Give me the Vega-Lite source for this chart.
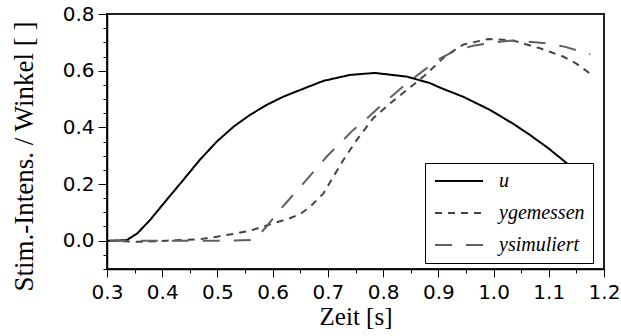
{
  "$schema": "https://vega.github.io/schema/vega-lite/v6.json",
  "width": 497,
  "height": 255,
  "autosize": {"type": "none"},
  "padding": {"left": 107, "top": 14, "right": 17, "bottom": 67},
  "background": "white",
  "data": {
    "values": [
      {"t": 0.300, "v": 0.000, "s": "u"},
      {"t": 0.311, "v": 0.000, "s": "u"},
      {"t": 0.336, "v": 0.002, "s": "u"},
      {"t": 0.355, "v": 0.026, "s": "u"},
      {"t": 0.378, "v": 0.073, "s": "u"},
      {"t": 0.408, "v": 0.144, "s": "u"},
      {"t": 0.438, "v": 0.214, "s": "u"},
      {"t": 0.468, "v": 0.285, "s": "u"},
      {"t": 0.499, "v": 0.350, "s": "u"},
      {"t": 0.529, "v": 0.402, "s": "u"},
      {"t": 0.559, "v": 0.444, "s": "u"},
      {"t": 0.589, "v": 0.479, "s": "u"},
      {"t": 0.619, "v": 0.508, "s": "u"},
      {"t": 0.650, "v": 0.532, "s": "u"},
      {"t": 0.692, "v": 0.564, "s": "u"},
      {"t": 0.740, "v": 0.585, "s": "u"},
      {"t": 0.785, "v": 0.592, "s": "u"},
      {"t": 0.843, "v": 0.579, "s": "u"},
      {"t": 0.885, "v": 0.556, "s": "u"},
      {"t": 0.903, "v": 0.540, "s": "u"},
      {"t": 0.945, "v": 0.508, "s": "u"},
      {"t": 0.994, "v": 0.461, "s": "u"},
      {"t": 1.036, "v": 0.412, "s": "u"},
      {"t": 1.066, "v": 0.373, "s": "u"},
      {"t": 1.100, "v": 0.325, "s": "u"},
      {"t": 1.129, "v": 0.279, "s": "u"},
      {"t": 1.155, "v": 0.236, "s": "u"},
      {"t": 1.180, "v": 0.195, "s": "u"},
      {"t": 0.305, "v": 0.000, "s": "ygemessen"},
      {"t": 0.330, "v": -0.002, "s": "ygemessen"},
      {"t": 0.360, "v": -0.004, "s": "ygemessen"},
      {"t": 0.408, "v": 0.000, "s": "ygemessen"},
      {"t": 0.468, "v": 0.005, "s": "ygemessen"},
      {"t": 0.499, "v": 0.014, "s": "ygemessen"},
      {"t": 0.529, "v": 0.024, "s": "ygemessen"},
      {"t": 0.559, "v": 0.035, "s": "ygemessen"},
      {"t": 0.601, "v": 0.061, "s": "ygemessen"},
      {"t": 0.631, "v": 0.079, "s": "ygemessen"},
      {"t": 0.650, "v": 0.094, "s": "ygemessen"},
      {"t": 0.668, "v": 0.120, "s": "ygemessen"},
      {"t": 0.692, "v": 0.167, "s": "ygemessen"},
      {"t": 0.710, "v": 0.226, "s": "ygemessen"},
      {"t": 0.728, "v": 0.285, "s": "ygemessen"},
      {"t": 0.752, "v": 0.355, "s": "ygemessen"},
      {"t": 0.782, "v": 0.432, "s": "ygemessen"},
      {"t": 0.813, "v": 0.485, "s": "ygemessen"},
      {"t": 0.843, "v": 0.532, "s": "ygemessen"},
      {"t": 0.873, "v": 0.579, "s": "ygemessen"},
      {"t": 0.900, "v": 0.628, "s": "ygemessen"},
      {"t": 0.915, "v": 0.655, "s": "ygemessen"},
      {"t": 0.945, "v": 0.692, "s": "ygemessen"},
      {"t": 0.991, "v": 0.712, "s": "ygemessen"},
      {"t": 1.036, "v": 0.706, "s": "ygemessen"},
      {"t": 1.084, "v": 0.679, "s": "ygemessen"},
      {"t": 1.126, "v": 0.650, "s": "ygemessen"},
      {"t": 1.150, "v": 0.625, "s": "ygemessen"},
      {"t": 1.178, "v": 0.585, "s": "ygemessen"},
      {"t": 0.305, "v": 0.000, "s": "ysimuliert"},
      {"t": 0.400, "v": 0.000, "s": "ysimuliert"},
      {"t": 0.500, "v": 0.000, "s": "ysimuliert"},
      {"t": 0.560, "v": 0.002, "s": "ysimuliert"},
      {"t": 0.575, "v": 0.020, "s": "ysimuliert"},
      {"t": 0.589, "v": 0.050, "s": "ysimuliert"},
      {"t": 0.613, "v": 0.108, "s": "ysimuliert"},
      {"t": 0.634, "v": 0.155, "s": "ysimuliert"},
      {"t": 0.656, "v": 0.203, "s": "ysimuliert"},
      {"t": 0.677, "v": 0.250, "s": "ysimuliert"},
      {"t": 0.698, "v": 0.297, "s": "ysimuliert"},
      {"t": 0.722, "v": 0.344, "s": "ysimuliert"},
      {"t": 0.746, "v": 0.391, "s": "ysimuliert"},
      {"t": 0.770, "v": 0.430, "s": "ysimuliert"},
      {"t": 0.794, "v": 0.473, "s": "ysimuliert"},
      {"t": 0.813, "v": 0.505, "s": "ysimuliert"},
      {"t": 0.843, "v": 0.556, "s": "ysimuliert"},
      {"t": 0.873, "v": 0.600, "s": "ysimuliert"},
      {"t": 0.900, "v": 0.640, "s": "ysimuliert"},
      {"t": 0.930, "v": 0.670, "s": "ysimuliert"},
      {"t": 0.963, "v": 0.688, "s": "ysimuliert"},
      {"t": 1.000, "v": 0.700, "s": "ysimuliert"},
      {"t": 1.030, "v": 0.706, "s": "ysimuliert"},
      {"t": 1.060, "v": 0.703, "s": "ysimuliert"},
      {"t": 1.090, "v": 0.698, "s": "ysimuliert"},
      {"t": 1.130, "v": 0.684, "s": "ysimuliert"},
      {"t": 1.175, "v": 0.658, "s": "ysimuliert"}
    ]
  },
  "mark": {"type": "line", "strokeWidth": 2, "clip": true},
  "encoding": {
    "x": {
      "field": "t", "type": "quantitative",
      "scale": {"domain": [0.3, 1.2], "nice": false, "zero": false},
      "axis": {
        "title": "Zeit [s]",
        "values": [0.3, 0.35, 0.4, 0.45, 0.5, 0.55, 0.6, 0.65, 0.7, 0.75, 0.8, 0.85, 0.9, 0.95, 1.0, 1.05, 1.1, 1.15, 1.2],
        "format": ".1f",
        "labelExpr": "abs(datum.value*10 - round(datum.value*10)) < 0.001 ? datum.label : ''",
        "tickSize": {"condition": {"test": "abs(datum.value*10 - round(datum.value*10)) < 0.001", "value": 8}, "value": 4},
        "labelPadding": 5,
        "titlePadding": 2,
        "labelFont": "DejaVu Sans",
        "labelFontSize": 20,
        "titleFont": "Liberation Serif, DejaVu Serif, serif",
        "titleFontSize": 25,
        "titleFontWeight": "normal"
      }
    },
    "y": {
      "field": "v", "type": "quantitative",
      "scale": {"domain": [-0.1, 0.8], "nice": false, "zero": false},
      "axis": {
        "title": "Stim.-Intens. / Winkel [ ]",
        "values": [-0.1, -0.05, 0, 0.05, 0.1, 0.15, 0.2, 0.25, 0.3, 0.35, 0.4, 0.45, 0.5, 0.55, 0.6, 0.65, 0.7, 0.75, 0.8],
        "format": ".1f",
        "labelExpr": "abs(datum.value*5 - round(datum.value*5)) < 0.001 ? datum.label : ''",
        "tickSize": {"condition": {"test": "abs(datum.value*5 - round(datum.value*5)) < 0.001", "value": 9}, "value": 4},
        "labelPadding": 4,
        "titlePadding": 24,
        "titleY": 142,
        "labelFont": "DejaVu Sans",
        "labelFontSize": 20,
        "titleFont": "Liberation Serif, DejaVu Serif, serif",
        "titleFontSize": 27,
        "titleFontWeight": "normal"
      }
    },
    "color": {
      "field": "s", "type": "nominal",
      "scale": {"domain": ["u", "ygemessen", "ysimuliert"], "range": ["#000000", "#444444", "#606060"]},
      "legend": {"title": null, "labelFont": "Liberation Serif, DejaVu Serif, serif", "labelFontSize": 20, "labelFontStyle": "italic", "rowPadding": 12}
    },
    "strokeDash": {
      "field": "s", "type": "nominal",
      "scale": {"domain": ["u", "ygemessen", "ysimuliert"], "range": [[1, 0], [7, 6], [17, 14]]},
      "legend": {"title": null}
    }
  },
  "config": {
    "view": {"stroke": "#222222", "strokeWidth": 2},
    "axis": {
      "grid": false,
      "domainColor": "#000000",
      "domainWidth": 1.5,
      "tickColor": "#000000",
      "tickWidth": 1,
      "labelColor": "#000000",
      "labelOverlap": false,
      "labelFlush": false,
      "titleColor": "#000000"
    },
    "legend": {
      "orient": "none",
      "legendX": 318,
      "legendY": 149,
      "strokeColor": "#000000",
      "fillColor": "#ffffff",
      "padding": 8,
      "symbolType": "M-3,0H3",
      "symbolSize": 256,
      "symbolOffset": 16,
      "symbolStrokeWidth": 2,
      "labelColor": "#000000",
      "labelOffset": 30,
      "cornerRadius": 0
    }
  }
}
